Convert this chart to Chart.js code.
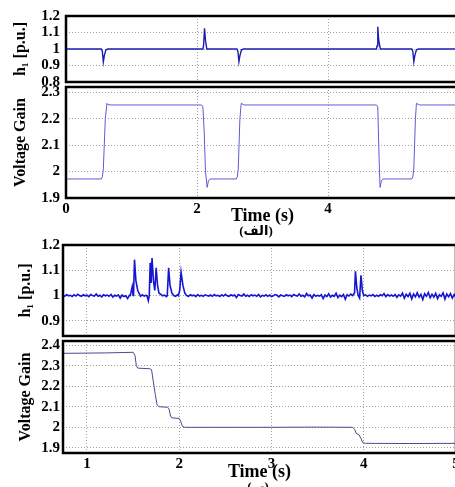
<!DOCTYPE html>
<html>
<head>
<meta charset="utf-8">
<script src="https://cdn.jsdelivr.net/npm/chart.js@4.4.1/dist/chart.umd.min.js"></script>
<style>
  body { margin: 0; background: #fff; overflow: hidden; }
  #wrap { position: relative; width: 455px; height: 487px; overflow: hidden; }
  canvas { position: absolute; left: 0; top: 0; }
  .cap { position: absolute; font: bold 13px 'Liberation Serif', 'DejaVu Sans', serif; line-height: 16px;
         color: #000; transform: translateX(-50%); white-space: nowrap; direction: rtl; }
</style>
</head>
<body>
<div id="wrap">
  <canvas id="c1" width="470" height="487"></canvas>
  <canvas id="c2" width="470" height="487"></canvas>
  <canvas id="c3" width="470" height="487"></canvas>
  <canvas id="c4" width="470" height="487"></canvas>
  <div class="cap" style="left:256px;top:223px">(الف)</div>
  <div class="cap" style="left:258px;top:479px">(ب)</div>
</div>
<script>
// --- (الف) upper pair, 0..6 s ---
const h1TopT = [0, 0.54, 0.555, 0.57, 0.585, 0.61, 0.64, 1.5, 2.09, 2.10, 2.115, 2.13, 2.15,
  2.61, 2.625, 2.64, 2.655, 2.68, 2.71, 3.2, 4.74, 4.75, 4.76, 4.775, 4.80,
  5.28, 5.295, 5.31, 5.325, 5.35, 5.38, 6];
const h1TopV = [1.0, 1.0, 0.985, 0.922, 0.96, 0.995, 1.0, 1.0, 1.0, 1.02, 1.126, 1.05, 1.0,
  1.0, 0.985, 0.923, 0.96, 0.995, 1.0, 1.0, 1.0, 1.02, 1.135, 1.05, 1.0,
  1.0, 0.985, 0.923, 0.96, 0.995, 1.0, 1.0];

const gainTopT = [0, 0.54, 0.555, 0.57, 0.60, 0.625, 0.64, 0.70,
  2.07, 2.09, 2.11, 2.13, 2.155, 2.175, 2.20,
  2.60, 2.615, 2.63, 2.655, 2.675, 2.72,
  4.74, 4.76, 4.78, 4.795, 4.815, 4.84,
  5.28, 5.295, 5.31, 5.335, 5.35, 5.40, 6];
const gainTopV = [1.972, 1.972, 1.98, 2.01, 2.20, 2.258, 2.253, 2.252,
  2.252, 2.245, 2.15, 2.00, 1.94, 1.965, 1.972,
  1.972, 1.98, 2.01, 2.20, 2.258, 2.252,
  2.252, 2.245, 2.05, 1.94, 1.965, 1.972,
  1.972, 1.98, 2.01, 2.20, 2.258, 2.252, 2.252];

const topXTicks = [0, 2, 4, 6];
const h1TopTicks = [0.8, 0.9, 1, 1.1, 1.2];
const gainTopTicks = [1.9, 2, 2.1, 2.2, 2.3];

// --- (ب) lower pair, 0.74..5 s ---
// h1 read every 0.02 s starting at 0.74 s
const h1NoiseStart = 0.74, h1NoiseStep = 0.02;
const h1Noise = [
  1.002, 0.997, 1.004, 0.999, 1.001, 0.996, 1.003, 0.998, 1.005, 1.000,
  0.997, 1.003, 0.999, 1.002, 0.996, 1.004, 1.000, 0.998, 1.006, 0.997,
  1.001, 0.995, 1.003, 0.999, 1.002, 0.997, 1.004, 0.994, 1.001, 0.998,
  1.003, 0.990, 1.002, 0.996, 0.999, 0.988, 1.001, 0.995, 1.000, 1.000,
  0.999, 1.002, 0.997, 1.003, 0.998, 1.001, 0.996, 1.002, 0.999, 1.003,
  0.998, 1.001, 0.997, 1.003, 0.999, 1.002, 0.996, 1.000, 1.004, 0.998,
  1.001, 0.997, 1.003, 0.999, 1.002, 0.996, 1.004, 1.000, 0.997, 1.003,
  0.999, 1.002, 0.996, 1.004, 0.998, 1.001, 0.997, 1.003, 1.000, 0.998,
  1.002, 0.997, 1.004, 0.999, 1.001, 0.996, 1.003, 0.998, 1.005, 0.999,
  0.997, 1.003, 0.999, 1.002, 0.992, 1.004, 1.000, 0.998, 1.006, 0.997,
  1.001, 0.996, 1.003, 0.999, 1.002, 0.997, 1.004, 0.995, 1.001, 0.998,
  1.003, 0.997, 1.002, 0.996, 0.999, 1.004, 1.001, 0.995, 1.002, 0.999,
  0.997, 1.003, 0.999, 1.002, 0.996, 1.004, 1.000, 0.998, 1.006, 0.997,
  1.001, 0.995, 1.008, 0.999, 1.002, 0.990, 1.004, 0.997, 1.001, 0.998,
  1.003, 0.988, 1.002, 0.996, 1.007, 0.994, 1.001, 0.997, 1.009, 0.992,
  1.002, 0.996, 1.004, 0.985, 1.003, 0.998, 1.006, 1.000, 1.000, 1.000,
  1.000, 1.000, 1.000, 0.998, 1.003, 0.997, 1.002, 0.999, 1.004, 0.996,
  1.001, 0.997, 1.003, 0.999, 1.008, 0.996, 1.004, 0.998, 1.002, 0.997,
  1.004, 0.993, 1.003, 0.998, 1.010, 0.990, 1.005, 0.996, 1.009, 0.986,
  1.006, 0.995, 1.011, 0.994, 1.004, 0.984, 1.007, 0.997, 1.012, 0.991,
  1.005, 0.994, 1.009, 0.988, 1.003, 0.997, 1.011, 0.986, 1.006, 0.995,
  1.008, 0.990, 1.004, 0.994
];
// transient bursts on h1, [time, value]
const burst1 = [[1.47, 1.0], [1.49, 1.035], [1.50, 1.0], [1.505, 1.01], [1.515, 1.142], [1.53, 1.06], [1.55, 1.02], [1.57, 1.005]];
const burst2 = [[1.65, 1.0], [1.665, 0.98], [1.675, 1.0], [1.685, 1.13], [1.695, 1.05], [1.705, 1.148],
  [1.72, 1.06], [1.735, 1.02], [1.75, 1.11], [1.765, 1.04], [1.78, 1.01], [1.80, 1.005]];
const burst3 = [[1.87, 1.0], [1.885, 1.11], [1.90, 1.04], [1.92, 1.01], [1.94, 1.0]];
const burst4 = [[1.99, 1.0], [2.005, 1.02], [2.02, 1.092], [2.04, 1.04], [2.06, 1.01], [2.08, 1.0]];
const burst5 = [[3.88, 1.0], [3.90, 1.01], [3.91, 1.096], [3.925, 1.03], [3.94, 1.0], [3.955, 0.99],
  [3.97, 1.08], [3.985, 1.02], [4.0, 1.0]];

const gainBotT = [0.74, 1.0, 1.2, 1.4, 1.5, 1.52, 1.535, 1.55, 1.68, 1.70, 1.72, 1.74, 1.76, 1.78,
  1.87, 1.89, 1.905, 1.92, 2.00, 2.015, 2.035, 2.06, 3.0, 3.5, 3.88, 3.90, 3.92, 3.95, 3.97, 3.99, 4.02, 4.5, 5.0];
const gainBotV = [2.36, 2.361, 2.362, 2.364, 2.365, 2.35, 2.30, 2.288, 2.285, 2.28, 2.22, 2.16, 2.11, 2.10,
  2.098, 2.09, 2.055, 2.046, 2.043, 2.03, 2.005, 2.0, 2.0, 2.001, 2.0, 1.99, 1.97, 1.963, 1.945, 1.925, 1.922, 1.921, 1.922];

const botXTicks = [1, 2, 3, 4, 5];
const h1BotTicks = [0.9, 1, 1.1, 1.2];
const gainBotTicks = [1.9, 2, 2.1, 2.2, 2.3, 2.4];

// ---------------------------------------------
const serif = "'Liberation Serif', 'Times New Roman', serif";
const pts = (ts, vs) => ts.map((t, i) => ({ x: t, y: vs[i] }));

function h1BottomPoints() {
  const bursts = [burst1, burst2, burst3, burst4, burst5];
  const out = [];
  h1Noise.forEach((v, i) => {
    const t = Math.round((h1NoiseStart + i * h1NoiseStep) * 100) / 100;
    if (!bursts.some(b => t >= b[0][0] && t <= b[b.length - 1][0])) out.push({ x: t, y: v });
  });
  bursts.forEach(b => b.forEach(p => out.push({ x: p[0], y: p[1] })));
  return out.sort((a, b) => a.x - b.x);
}

const frame = {
  id: 'frame',
  afterDatasetsDraw(c) {
    const a = c.chartArea, ctx = c.ctx;
    ctx.save();
    ctx.lineWidth = 2.5;
    ctx.strokeStyle = '#000';
    ctx.strokeRect(a.left, a.top, a.right - a.left, a.bottom - a.top);
    ctx.restore();
  }
};

const fmt = v => String(Number(v.toFixed(2)));

function panel(id, o) {
  return new Chart(document.getElementById(id), {
    type: 'line',
    data: {
      datasets: [{
        data: o.points,
        borderColor: o.color,
        borderWidth: o.lw,
        pointRadius: 0,
        tension: 0,
        fill: false
      }]
    },
    options: {
      responsive: false,
      animation: false,
      devicePixelRatio: 1,
      layout: { padding: o.pad },
      plugins: { legend: { display: false }, tooltip: { enabled: false } },
      scales: {
        x: {
          type: 'linear', min: o.xMin, max: o.xMax,
          afterBuildTicks: s => { s.ticks = o.xTicks.map(v => ({ value: v })); },
          afterFit: s => { s.height = o.xH; s.paddingLeft = 0; s.paddingRight = 0; },
          grid: { color: '#a0a0a0', lineWidth: 1, drawTicks: false },
          border: { display: false, dash: [1, 2] },
          ticks: {
            display: o.xLabels, autoSkip: false, maxRotation: 0, padding: 2, color: '#000',
            font: { family: serif, size: 15, weight: 'bold' }, callback: v => fmt(v)
          },
          title: {
            display: o.xLabels, text: 'Time (s)', color: '#000', padding: 0,
            font: { family: serif, size: 18, weight: 'bold' }
          }
        },
        y: {
          min: o.yMin, max: o.yMax,
          afterBuildTicks: s => { s.ticks = o.yTicks.map(v => ({ value: v })); },
          afterFit: s => { s.width = o.yW; s.paddingTop = 0; s.paddingBottom = 0; },
          grid: { color: '#a0a0a0', lineWidth: 1, drawTicks: false },
          border: { display: false, dash: [1, 2] },
          ticks: {
            autoSkip: false, padding: o.yPad, color: '#000',
            font: { family: serif, size: 15, weight: 'bold' }, callback: v => fmt(v)
          },
          title: {
            display: true, text: o.yTitle, color: '#000', padding: { top: o.yTitlePad, bottom: 0 },
            font: { family: serif, size: 16, weight: 'bold' }
          }
        }
      }
    },
    plugins: [frame]
  });
}

panel('c1', {
  points: pts(h1TopT, h1TopV), color: '#1c1cb4', lw: 1.4,
  xMin: 0, xMax: 6, xTicks: topXTicks, xLabels: false, xH: 0,
  yMin: 0.8, yMax: 1.2, yTicks: h1TopTicks, yW: 66, yPad: 6,
  yTitle: 'h₁ [p.u.]', yTitlePad: 11,
  pad: { left: 0, right: 11, top: 16, bottom: 405 }
});
panel('c2', {
  points: pts(gainTopT, gainTopV), color: '#5b5bd8', lw: 1,
  xMin: 0, xMax: 6, xTicks: topXTicks, xLabels: true, xH: 29,
  yMin: 1.9, yMax: 2.32, yTicks: gainTopTicks, yW: 66, yPad: 6,
  yTitle: 'Voltage Gain', yTitlePad: 11,
  pad: { left: 0, right: 11, top: 87, bottom: 260 }
});
panel('c3', {
  points: h1BottomPoints(), color: '#1515d2', lw: 1.6,
  xMin: 0.74, xMax: 5, xTicks: botXTicks, xLabels: false, xH: 0,
  yMin: 0.84, yMax: 1.2, yTicks: h1BotTicks, yW: 63, yPad: 3,
  yTitle: 'h₁ [p.u.]', yTitlePad: 16,
  pad: { left: 0, right: 14, top: 245, bottom: 151 }
});
panel('c4', {
  points: pts(gainBotT, gainBotV), color: '#4a4a8c', lw: 1,
  xMin: 0.74, xMax: 5, xTicks: botXTicks, xLabels: true, xH: 30,
  yMin: 1.875, yMax: 2.42, yTicks: gainBotTicks, yW: 63, yPad: 3,
  yTitle: 'Voltage Gain', yTitlePad: 16,
  pad: { left: 0, right: 14, top: 341, bottom: 4 }
});
</script>
</body>
</html>
